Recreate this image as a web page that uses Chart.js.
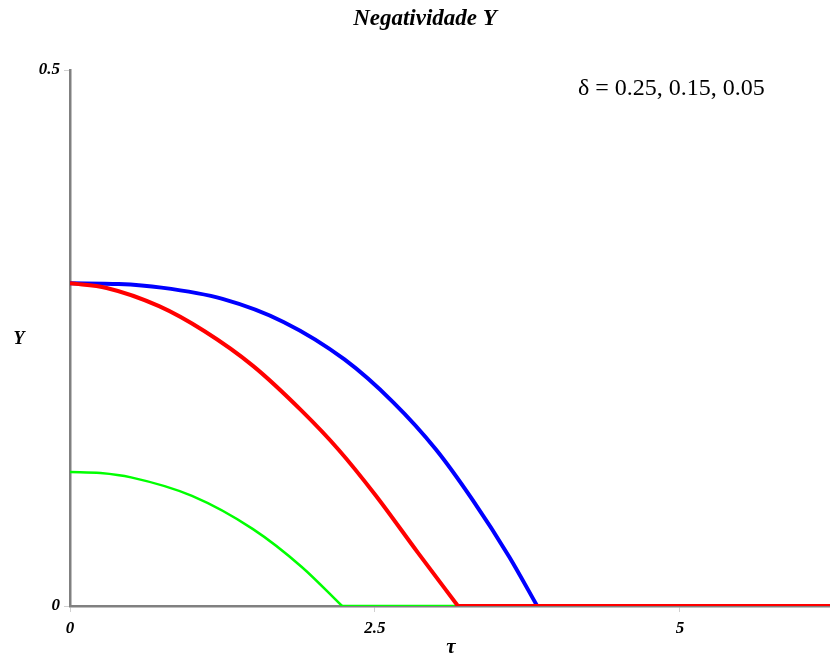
<!DOCTYPE html>
<html>
<head>
<meta charset="utf-8">
<script src="https://cdn.jsdelivr.net/npm/chart.js@4/dist/chart.umd.min.js"></script>
<style>
  body { margin: 0; background: #fff; }
  #wrap { width: 830px; height: 659px; }
</style>
</head>
<body>
<div id="wrap"><canvas id="chart"></canvas></div>
<script>
'use strict'

// values (curved part, down to where it hits zero)
const tauBlue = [0, 0.4, 0.75, 1.25, 1.75, 2.25, 2.65, 3.0, 3.3, 3.6, 3.83];
const yBlue   = [0.301, 0.3003, 0.297, 0.2865, 0.265, 0.230, 0.190, 0.146, 0.099, 0.046, 0];

const tauRed = [0, 0.3, 0.73, 1.1, 1.5, 1.9, 2.2, 2.5, 2.85, 3.18];
const yRed   = [0.301, 0.2967, 0.2797, 0.2565, 0.224, 0.182, 0.146, 0.104, 0.050, 0];

const tauGreen = [0, 0.25, 0.5, 1.0, 1.5, 1.9, 2.23];
const yGreen   = [0.125, 0.124, 0.120, 0.1027, 0.0717, 0.0364, 0];

// each curve stays at zero after that up to the right edge
const tauEnd = 6.23;

const xTicks = [0, 2.5, 5];
const yTicks = [0, 0.5];

const serif = 'Liberation Serif, Times New Roman, serif';

function pts(xs, ys) {
    return xs.map((x, i) => ({ x: x, y: ys[i] }));
}

function flat(xs) {
    return [{ x: xs[xs.length - 1], y: 0 }, { x: tauEnd, y: 0 }];
}

function line(data, color, width) {
    return {
        data: data,
        borderColor: color,
        borderWidth: width,
        pointRadius: 0,
        fill: false,
        cubicInterpolationMode: 'monotone'
    };
}

const textPlugin = {
    id: 'texts',
    afterDraw(chart) {
        const ctx = chart.ctx;
        ctx.save();
        ctx.fillStyle = '#000';
        ctx.textAlign = 'center';
        ctx.textBaseline = 'middle';
        ctx.font = 'bold italic 23px ' + serif;
        ctx.fillText('Negatividade Y', 425, 19);
        ctx.font = 'bold italic 18px ' + serif;
        ctx.fillText('Y', 19, 339);
        ctx.font = 'bold italic 21px ' + serif;
        ctx.fillText('τ', 451, 648);
        ctx.textAlign = 'left';
        ctx.font = '24px ' + serif;
        ctx.fillText('δ = 0.25, 0.15, 0.05', 578, 89);
        ctx.restore();
    }
};

document.addEventListener('DOMContentLoaded', function() {
    new Chart(document.getElementById('chart').getContext('2d'), {
        type: 'line',
        data: {
            // first dataset is painted on top
            datasets: [
                line(pts(tauRed, yRed), '#ff0000', 4),
                line(flat(tauRed), '#ff0000', 4),
                line(pts(tauBlue, yBlue), '#0000ff', 4),
                line(flat(tauBlue), '#0000ff', 4),
                line(pts(tauGreen, yGreen), '#00ff00', 2.5),
                line(flat(tauGreen), '#00ff00', 2.5)
            ]
        },
        options: {
            responsive: true,
            maintainAspectRatio: false,
            animation: false,
            layout: { padding: { top: 70, right: 0, bottom: 0, left: 0 } },
            plugins: { legend: { display: false }, tooltip: { enabled: false } },
            scales: {
                x: {
                    type: 'linear',
                    min: 0,
                    max: tauEnd,
                    afterFit(scale) { scale.height = 53; },
                    afterBuildTicks(scale) { scale.ticks = xTicks.map(v => ({ value: v })); },
                    grid: { drawOnChartArea: false, color: '#d0d0d0', tickLength: 6 },
                    border: { color: '#808080', width: 2.5 },
                    ticks: {
                        padding: 6,
                        color: '#000',
                        font: { family: serif, size: 17, style: 'italic', weight: 'bold' },
                        callback: v => String(v)
                    }
                },
                y: {
                    type: 'linear',
                    min: 0,
                    max: 0.5,
                    afterFit(scale) { scale.width = 70; },
                    afterBuildTicks(scale) { scale.ticks = yTicks.map(v => ({ value: v })); },
                    grid: { drawOnChartArea: false, color: '#d0d0d0', tickLength: 6 },
                    border: { color: '#808080', width: 2.5 },
                    ticks: {
                        padding: 4,
                        color: '#000',
                        font: { family: serif, size: 17, style: 'italic', weight: 'bold' },
                        callback: v => String(v)
                    }
                }
            }
        },
        plugins: [textPlugin]
    });
});
</script>
</body>
</html>
